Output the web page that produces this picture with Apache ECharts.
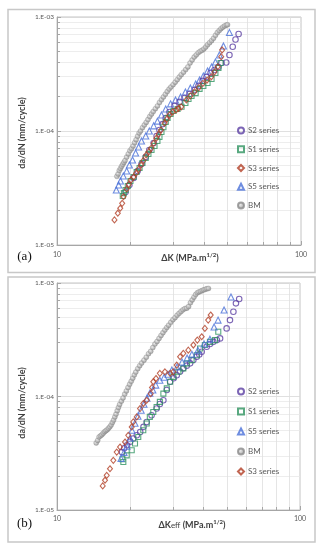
<!DOCTYPE html>
<html><head><meta charset="utf-8">
<script src="https://cdn.jsdelivr.net/npm/echarts@6/dist/echarts.min.js"></script>
<style>html,body{margin:0;padding:0;background:#fff}#c{width:322px;height:550px}</style>
</head><body><div id="c"></div>
<script>
// ---------- Panel (a): da/dN vs ΔK ----------
const a_S2_K = [19.1, 19.8, 20.6, 21.4, 22.2, 23.1, 23.9, 24.9, 25.6, 26.3, 27.1, 27.9, 28.9, 30.3, 31.8, 33.3, 34.9, 36.6, 38.0, 39.5, 41.0, 42.6, 44.2, 45.9, 47.2, 49.4, 50.9, 52.5, 53.9, 55.5];
const a_S2_v = [2.92e-5, 3.36e-5, 3.87e-5, 4.46e-5, 5.13e-5, 5.91e-5, 6.81e-5, 7.85e-5, 9.04e-5, 1.02e-4, 1.15e-4, 1.30e-4, 1.47e-4, 1.66e-4, 1.80e-4, 1.95e-4, 2.11e-4, 2.29e-4, 2.48e-4, 2.75e-4, 2.98e-4, 3.23e-4, 3.43e-4, 3.64e-4, 3.95e-4, 3.99e-4, 4.64e-4, 5.49e-4, 6.35e-4, 7.10e-4];
const a_S1_K = [18.6, 18.8, 19.1, 19.5, 20.0, 20.6, 21.2, 21.8, 22.4, 23.1, 23.7, 24.4, 25.1, 25.8, 26.3, 26.8, 27.3, 27.9, 28.4, 29.2, 30.0, 31.2, 32.4, 33.6, 34.6, 35.6, 37.0, 38.4, 39.8, 41.4, 43.0, 44.6, 45.9, 46.8];
const a_S1_v = [2.69e-5, 2.85e-5, 3.04e-5, 3.29e-5, 3.64e-5, 3.95e-5, 4.37e-5, 4.74e-5, 5.24e-5, 5.80e-5, 6.28e-5, 6.81e-5, 7.39e-5, 8.17e-5, 8.86e-5, 9.80e-5, 1.08e-4, 1.20e-4, 1.30e-4, 1.41e-4, 1.50e-4, 1.56e-4, 1.63e-4, 1.76e-4, 1.91e-4, 2.03e-4, 2.15e-4, 2.34e-4, 2.48e-4, 2.64e-4, 2.86e-4, 3.23e-4, 3.57e-4, 3.95e-4];
const a_S3_K = [17.2, 17.75, 18.16, 18.5, 18.73, 19.3, 19.7, 20.1, 20.6, 21.1, 21.6, 22.1, 22.6, 23.2, 23.8, 24.3, 24.9, 25.5, 26.1, 26.7, 27.6, 28.2, 28.9, 29.8, 30.8, 31.5, 32.3, 33.9, 35.2, 36.6, 38.1, 39.6, 41.2, 42.9, 44.2, 45.6, 47.1, 47.5];
const a_S3_v = [1.66e-5, 1.90e-5, 2.10e-5, 2.32e-5, 2.65e-5, 3.10e-5, 3.40e-5, 3.72e-5, 3.95e-5, 4.26e-5, 4.60e-5, 5.03e-5, 5.50e-5, 6.16e-5, 6.60e-5, 7.05e-5, 7.80e-5, 8.63e-5, 9.40e-5, 1.02e-4, 1.17e-4, 1.27e-4, 1.38e-4, 1.47e-4, 1.53e-4, 1.58e-4, 1.63e-4, 1.87e-4, 2.03e-4, 2.21e-4, 2.40e-4, 2.62e-4, 2.80e-4, 2.99e-4, 3.30e-4, 3.66e-4, 4.49e-4, 5.14e-4];
const a_S5_K = [17.5, 17.9, 18.2, 18.7, 19.3, 19.8, 20.4, 21.0, 21.6, 22.2, 23.1, 23.9, 24.9, 25.8, 26.8, 27.9, 29.2, 30.6, 32.1, 33.6, 35.2, 37.0, 38.4, 39.8, 41.4, 43.0, 44.6, 46.3, 48.1, 50.9];
const a_S5_v = [3.04e-5, 3.36e-5, 3.64e-5, 4.03e-5, 4.46e-5, 5.03e-5, 5.57e-5, 6.41e-5, 7.24e-5, 8.17e-5, 9.04e-5, 1.00e-4, 1.11e-4, 1.22e-4, 1.38e-4, 1.56e-4, 1.73e-4, 1.87e-4, 1.99e-4, 2.20e-4, 2.38e-4, 2.58e-4, 2.80e-4, 3.04e-4, 3.36e-4, 3.64e-4, 4.03e-4, 4.64e-4, 5.57e-4, 7.31e-4];
const a_BM_K = [17.6, 17.8, 18.0, 18.2, 18.4, 18.6, 18.8, 19.0, 19.3, 19.6, 19.9, 20.2, 20.5, 20.8, 21.1, 21.4, 21.7, 22.0, 22.4, 22.8, 23.2, 23.6, 24.0, 24.4, 24.8, 25.3, 25.8, 26.3, 26.8, 27.3, 27.8, 28.3, 28.8, 29.3, 29.9, 30.5, 31.1, 31.7, 32.3, 33.0, 33.7, 34.4, 35.1, 35.8, 36.5, 37.2, 37.9, 38.6, 39.3, 40.0, 40.7, 41.4, 42.2, 43.0, 43.8, 44.6, 45.4, 46.2, 47.0, 47.8, 48.6, 49.4, 50.0];
const a_BM_v = [4.0e-5, 4.2e-5, 4.5e-5, 4.7e-5, 4.9e-5, 5.1e-5, 5.3e-5, 5.5e-5, 5.9e-5, 6.3e-5, 6.7e-5, 7.0e-5, 7.4e-5, 7.9e-5, 8.4e-5, 9.0e-5, 9.6e-5, 1.0e-4, 1.07e-4, 1.13e-4, 1.19e-4, 1.26e-4, 1.34e-4, 1.41e-4, 1.48e-4, 1.57e-4, 1.66e-4, 1.78e-4, 1.88e-4, 1.99e-4, 2.10e-4, 2.22e-4, 2.33e-4, 2.43e-4, 2.55e-4, 2.68e-4, 2.82e-4, 2.97e-4, 3.12e-4, 3.28e-4, 3.46e-4, 3.65e-4, 3.95e-4, 4.20e-4, 4.45e-4, 4.65e-4, 4.85e-4, 5.00e-4, 5.10e-4, 5.25e-4, 5.45e-4, 5.70e-4, 5.95e-4, 6.20e-4, 6.50e-4, 6.90e-4, 7.30e-4, 7.60e-4, 7.90e-4, 8.15e-4, 8.35e-4, 8.50e-4, 8.55e-4];

// ---------- Panel (b): da/dN vs ΔKeff ----------
const b_S2_K = [18.5, 18.9, 19.4, 20.0, 20.6, 21.3, 22.0, 22.7, 23.4, 24.5, 25.7, 26.5, 27.4, 28.3, 29.2, 30.2, 31.1, 32.1, 33.1, 34.2, 35.3, 36.4, 37.6, 38.5, 39.4, 41.3, 42.6, 44.0, 45.5, 46.9, 49.9, 51.5, 53.2, 54.5, 56.2];
const b_S2_v = [3.24e-5, 3.50e-5, 3.72e-5, 4.00e-5, 4.26e-5, 4.55e-5, 4.87e-5, 5.40e-5, 5.97e-5, 6.84e-5, 7.83e-5, 8.60e-5, 9.27e-5, 1.14e-4, 1.35e-4, 1.45e-4, 1.54e-4, 1.66e-4, 1.77e-4, 1.87e-4, 1.96e-4, 2.10e-4, 2.24e-4, 2.35e-4, 2.48e-4, 2.74e-4, 2.90e-4, 3.03e-4, 3.15e-4, 3.25e-4, 3.98e-4, 4.71e-4, 5.58e-4, 6.62e-4, 7.22e-4];
const b_S1_K = [18.6, 18.75, 19.36, 20.3, 20.94, 21.6, 22.65, 23.4, 24.1, 24.9, 25.7, 26.5, 27.4, 28.3, 29.2, 30.1, 31.6, 33.1, 34.2, 35.8, 37.6, 38.8, 40.6, 42.6, 44.7, 46.1];
const b_S1_v = [2.80e-5, 2.65e-5, 3.03e-5, 3.36e-5, 3.85e-5, 4.40e-5, 5.04e-5, 5.78e-5, 6.61e-5, 7.31e-5, 8.09e-5, 8.96e-5, 1.06e-4, 1.18e-4, 1.35e-4, 1.49e-4, 1.65e-4, 1.77e-4, 1.96e-4, 2.09e-4, 2.31e-4, 2.65e-4, 2.84e-4, 3.03e-4, 3.14e-4, 3.72e-4];
const b_S5_K = [18.34, 18.87, 19.41, 19.97, 20.35, 20.94, 21.54, 22.2, 22.8, 23.45, 24.1, 24.8, 25.5, 26.5, 27.6, 28.6, 29.7, 31.2, 32.7, 34.3, 35.9, 38.0, 40.3, 42.6, 44.3, 46.0, 48.7, 52.0];
const b_S5_v = [2.85e-5, 3.22e-5, 3.64e-5, 4.29e-5, 5.04e-5, 5.81e-5, 6.70e-5, 7.57e-5, 8.55e-5, 9.66e-5, 1.07e-4, 1.14e-4, 1.26e-4, 1.39e-4, 1.48e-4, 1.57e-4, 1.71e-4, 1.82e-4, 2.01e-4, 2.18e-4, 2.36e-4, 2.56e-4, 2.90e-4, 3.20e-4, 4.09e-4, 4.71e-4, 5.78e-4, 7.52e-4];
const b_BM_K = [14.5, 14.7, 14.9, 15.1, 15.3, 15.5, 15.7, 15.9, 16.1, 16.3, 16.5, 16.7, 16.9, 17.1, 17.3, 17.5, 17.7, 17.9, 18.1, 18.4, 18.7, 19.0, 19.3, 19.6, 19.9, 20.2, 20.5, 20.8, 21.1, 21.5, 21.9, 22.3, 22.8, 23.3, 23.8, 24.3, 24.8, 25.3, 25.8, 26.3, 26.8, 27.3, 27.8, 28.3, 28.8, 29.4, 30.0, 30.6, 31.2, 31.8, 32.4, 33.0, 33.6, 34.2, 34.8, 35.4, 36.0, 36.6, 37.2, 37.8, 38.4, 39.0, 39.6, 40.2, 40.8, 41.4, 42.0];
const b_BM_v = [3.9e-5, 4.1e-5, 4.4e-5, 4.5e-5, 4.6e-5, 4.75e-5, 4.9e-5, 5.0e-5, 5.1e-5, 5.25e-5, 5.4e-5, 5.6e-5, 5.9e-5, 6.2e-5, 6.6e-5, 7.0e-5, 7.5e-5, 8.0e-5, 8.5e-5, 9.1e-5, 9.7e-5, 1.05e-4, 1.12e-4, 1.20e-4, 1.28e-4, 1.36e-4, 1.45e-4, 1.55e-4, 1.64e-4, 1.76e-4, 1.87e-4, 1.97e-4, 2.09e-4, 2.22e-4, 2.38e-4, 2.50e-4, 2.70e-4, 2.90e-4, 3.05e-4, 3.25e-4, 3.45e-4, 3.65e-4, 3.85e-4, 4.05e-4, 4.25e-4, 4.50e-4, 4.75e-4, 4.95e-4, 5.20e-4, 5.40e-4, 5.60e-4, 5.80e-4, 5.95e-4, 6.00e-4, 6.20e-4, 6.70e-4, 7.10e-4, 7.50e-4, 7.90e-4, 8.20e-4, 8.35e-4, 8.45e-4, 8.60e-4, 8.70e-4, 8.80e-4, 8.90e-4, 8.95e-4];
const b_S3_K = [15.42, 15.76, 16.02, 16.52, 17.05, 17.61, 18.17, 19.05, 19.65, 20.3, 20.6, 21.28, 21.96, 22.65, 23.4, 24.3, 24.6, 24.9, 25.55, 26.5, 27.8, 29.2, 30.1, 31.1, 32.1, 33.1, 34.7, 36.4, 37.8, 39.4, 40.6, 41.9, 42.9];
const b_S3_v = [1.63e-5, 1.83e-5, 2.02e-5, 2.31e-5, 2.74e-5, 3.24e-5, 3.59e-5, 3.97e-5, 4.55e-5, 5.39e-5, 5.97e-5, 6.61e-5, 7.83e-5, 8.67e-5, 9.27e-5, 1.06e-4, 1.20e-4, 1.35e-4, 1.44e-4, 1.60e-4, 1.65e-4, 1.60e-4, 1.65e-4, 1.89e-4, 2.24e-4, 2.40e-4, 2.56e-4, 2.84e-4, 3.14e-4, 3.36e-4, 3.98e-4, 4.71e-4, 5.22e-4];

// axis ticks
const xMin = 10, xMax = 100;
const yMin = 1e-5, yMax = 1e-3;
const legendA = ['S2 series', 'S1 series', 'S3 series', 'S5 series', 'BM'];
const legendB = ['S2 series', 'S1 series', 'S5 series', 'BM', 'S3 series'];

const FONT = 'Lato, "Liberation Sans", sans-serif';
const STY = {
  'S2 series': {symbol: 'circle', size: 5.5, color: '#5b3fa3'},
  'S1 series': {symbol: 'rect', size: 5, color: '#2f9460'},
  'S3 series': {symbol: 'diamond', size: [5, 6], color: '#b23f26'},
  'S5 series': {symbol: 'triangle', size: 6, color: '#4a70d8'},
  'BM': {symbol: 'circle', size: 5, color: '#9a9a9a'}
};
const bmFill = {type: 'radial', x: 0.4, y: 0.4, r: 0.6,
  colorStops: [{offset: 0, color: '#e6e6e6'}, {offset: 1, color: '#8a8a8a'}]};

function pairs(K, v) { return K.map((k, i) => [k, v[i]]); }
function ser(name, K, v, idx, z) {
  const s = STY[name];
  const bm = name === 'BM';
  return {
    name, type: 'scatter', xAxisIndex: idx, yAxisIndex: idx, z,
    symbol: s.symbol, symbolSize: s.size,
    data: pairs(K, v),
    itemStyle: bm ? {color: bmFill, borderColor: '#8c8c8c', borderWidth: 0.4}
                  : {color: 'rgba(255,255,255,0)', borderColor: s.color, borderWidth: 1.1},
    emphasis: {disabled: true}, silent: true
  };
}
function expLabel(v) {
  const e = Math.round(Math.log10(v));
  return '1.E' + (e < 0 ? '-' : '+') + String(Math.abs(e)).padStart(2, '0');
}
function xAx(idx) {
  return {
    type: 'log', logBase: 10, min: xMin, max: xMax, gridIndex: idx,
    axisLine: {lineStyle: {color: '#a6a6a6', width: 1}},
    axisTick: {show: true, inside: true, length: 4, lineStyle: {color: '#a6a6a6'}},
    minorTick: {show: true, splitNumber: 9, length: 3, lineStyle: {color: '#a6a6a6'}},
    splitLine: {show: false},
    minorSplitLine: {show: true, lineStyle: {color: '#dedede', width: 0.8}},
    axisLabel: {fontSize: 7, color: '#595959', fontFamily: FONT, margin: idx === 0 ? 6 : 5,
      formatter: v => String(Math.round(v))}
  };
}
function yAx(idx) {
  return {
    type: 'log', logBase: 10, min: yMin, max: yMax, gridIndex: idx,
    axisLine: {show: true, lineStyle: {color: '#a6a6a6', width: 1}},
    axisTick: {show: true, inside: true, length: 4, lineStyle: {color: '#a6a6a6'}},
    minorTick: {show: true, splitNumber: 9, length: 3, lineStyle: {color: '#a6a6a6'}},
    splitLine: {show: true, lineStyle: {color: '#d8d8d8', width: 0.8}},
    minorSplitLine: {show: true, lineStyle: {color: '#e8e8e8', width: 0.8}},
    axisLabel: {fontSize: 6.5, color: '#595959', fontFamily: FONT, margin: 3, formatter: expLabel}
  };
}
function legend(data, top, gap) {
  return {
    data, orient: 'vertical', left: 232, top, itemGap: gap,
    itemWidth: 6, itemHeight: 6, selectedMode: false,
    textStyle: {fontSize: 8, color: '#595959', fontFamily: FONT, padding: [0, 0, 0, -1]}
  };
}
const titleSty = {
  b: {fontSize: 9, fontWeight: 'bold', fill: '#404040', fontFamily: FONT},
  s: {fontSize: 6, fontWeight: 'bold', fill: '#404040', fontFamily: FONT, verticalAlign: 'top', padding: [0, 0, 5, 0]}
};

const chart = echarts.init(document.getElementById('c'), null, {renderer: 'canvas'});
chart.setOption({
  animation: false,
  backgroundColor: '#fff',
  grid: [
    {left: 57, top: 17, width: 244, height: 228, show: true, borderColor: '#c4c4c4', borderWidth: 1, backgroundColor: 'transparent'},
    {left: 57, top: 283, width: 243, height: 227, show: true, borderColor: '#c4c4c4', borderWidth: 1, backgroundColor: 'transparent'}
  ],
  xAxis: [xAx(0), xAx(1)],
  yAxis: [yAx(0), yAx(1)],
  legend: [legend(legendA, 121.5, 10.75), legend(legendB, 382.5, 12)],
  series: [
    ser('BM', a_BM_K, a_BM_v, 0, 2),
    ser('S5 series', a_S5_K, a_S5_v, 0, 3),
    ser('S2 series', a_S2_K, a_S2_v, 0, 4),
    ser('S1 series', a_S1_K, a_S1_v, 0, 5),
    ser('S3 series', a_S3_K, a_S3_v, 0, 6),
    ser('BM', b_BM_K, b_BM_v, 1, 2),
    ser('S2 series', b_S2_K, b_S2_v, 1, 3),
    ser('S1 series', b_S1_K, b_S1_v, 1, 4),
    ser('S5 series', b_S5_K, b_S5_v, 1, 5),
    ser('S3 series', b_S3_K, b_S3_v, 1, 6)
  ],
  graphic: [
    {type: 'rect', shape: {x: 8, y: 9.5, width: 307, height: 263}, style: {fill: 'none', stroke: '#c8c8c8', lineWidth: 1.5}, silent: true},
    {type: 'rect', shape: {x: 8, y: 277, width: 307, height: 265}, style: {fill: 'none', stroke: '#c8c8c8', lineWidth: 1.5}, silent: true},
    {type: 'text', x: 24.5, y: 257, style: {text: '(a)', font: '13px "Liberation Serif", serif', fill: '#111', align: 'center', verticalAlign: 'middle'}},
    {type: 'text', x: 24.5, y: 524, style: {text: '(b)', font: '13px "Liberation Serif", serif', fill: '#111', align: 'center', verticalAlign: 'middle'}},
    {type: 'text', x: 190, y: 258, style: {text: '{b|ΔK (MPa.m}{s|1/2}{b|)}', rich: titleSty, align: 'center', verticalAlign: 'middle'}},
    {type: 'text', x: 192, y: 525, style: {text: '{b|ΔK}{e|eff}{b| (MPa.m}{s|1/2}{b|)}', rich: Object.assign({e: {fontSize: 8, fill: '#404040', fontFamily: FONT}}, titleSty), align: 'center', verticalAlign: 'middle'}},
    {type: 'text', x: 22, y: 133, rotation: Math.PI / 2, style: {text: 'da/dN (mm/cycle)', font: 'bold 9px ' + FONT, fill: '#404040', align: 'center', verticalAlign: 'middle'}},
    {type: 'text', x: 22, y: 403, rotation: Math.PI / 2, style: {text: 'da/dN (mm/cycle)', font: 'bold 9px ' + FONT, fill: '#404040', align: 'center', verticalAlign: 'middle'}}
  ]
});
</script>
</body></html>
